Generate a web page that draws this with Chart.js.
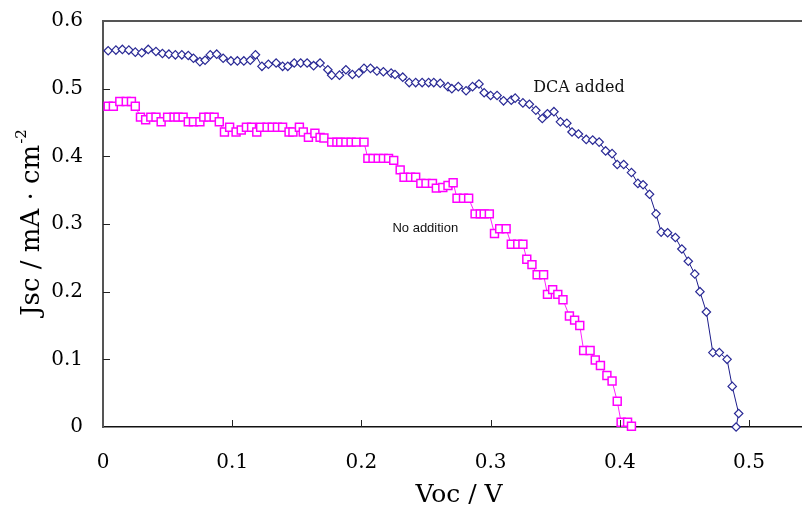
<!DOCTYPE html>
<html><head><meta charset="utf-8">
<script src="https://cdn.jsdelivr.net/npm/chart.js@4/dist/chart.umd.min.js"></script>
<style>html,body{margin:0;padding:0;background:#fff;}#wrap{width:802px;height:506px;position:relative;}</style>
</head><body><div id="wrap"><canvas id="c" width="802" height="506"></canvas></div>
<script>
const blueV = [0.004,0.010,0.015,0.020,0.025,0.030,0.035,0.041,0.046,0.051,
0.056,0.061,0.066,0.070,0.075,0.079,0.083,0.088,0.093,0.099,
0.104,0.109,0.114,0.118,0.123,0.128,0.134,0.139,0.143,0.148,
0.153,0.158,0.163,0.168,0.174,0.177,0.183,0.188,0.193,0.198,
0.202,0.207,0.212,0.217,0.223,0.226,0.232,0.237,0.242,0.247,
0.252,0.256,0.261,0.267,0.270,0.275,0.281,0.286,0.291,0.295,
0.300,0.305,0.310,0.316,0.319,0.325,0.330,0.335,0.340,0.344,
0.349,0.354,0.359,0.363,0.368,0.374,0.379,0.384,0.389,0.394,
0.398,0.403,0.409,0.414,0.418,0.423,0.428,0.432,0.437,0.443,
0.448,0.453,0.458,0.462,0.467,0.472,0.477,0.483,0.487,0.492,0.490];
const blueJ = [0.556,0.557,0.558,0.557,0.554,0.553,0.558,0.555,0.552,0.551,
0.550,0.550,0.549,0.545,0.540,0.542,0.550,0.551,0.545,0.541,
0.541,0.541,0.542,0.550,0.533,0.536,0.538,0.533,0.533,0.538,
0.538,0.538,0.534,0.538,0.528,0.520,0.520,0.528,0.521,0.523,
0.530,0.530,0.526,0.525,0.523,0.521,0.517,0.509,0.509,0.509,
0.509,0.509,0.508,0.503,0.500,0.503,0.497,0.503,0.507,0.494,
0.490,0.490,0.482,0.483,0.486,0.479,0.477,0.468,0.456,0.463,
0.466,0.451,0.449,0.436,0.433,0.425,0.424,0.421,0.408,0.404,
0.388,0.388,0.376,0.360,0.358,0.344,0.315,0.288,0.287,0.280,
0.263,0.245,0.226,0.200,0.170,0.110,0.110,0.100,0.060,0.020,0.000];
const pinkV = [0.004,0.008,0.013,0.018,0.022,0.025,0.029,0.033,0.037,0.041,
0.045,0.050,0.055,0.058,0.062,0.066,0.070,0.075,0.078,0.082,
0.086,0.090,0.094,0.098,0.103,0.107,0.111,0.115,0.119,0.122,
0.127,0.131,0.135,0.139,0.144,0.147,0.152,0.155,0.159,0.164,
0.168,0.171,0.177,0.181,0.184,0.188,0.192,0.196,0.202,0.205,
0.209,0.213,0.217,0.221,0.225,0.230,0.233,0.238,0.242,0.246,
0.250,0.255,0.258,0.263,0.267,0.271,0.274,0.279,0.283,0.288,
0.292,0.295,0.299,0.303,0.307,0.312,0.316,0.321,0.325,0.328,
0.332,0.336,0.341,0.344,0.348,0.352,0.356,0.361,0.365,0.369,
0.372,0.377,0.381,0.385,0.390,0.394,0.398,0.401,0.406,0.409];
const pinkJ = [0.474,0.474,0.481,0.481,0.481,0.474,0.458,0.454,0.458,0.458,
0.451,0.458,0.458,0.458,0.458,0.451,0.451,0.451,0.458,0.458,
0.458,0.451,0.436,0.443,0.436,0.439,0.443,0.443,0.436,0.443,
0.443,0.443,0.443,0.443,0.436,0.436,0.443,0.436,0.428,0.434,
0.428,0.427,0.421,0.421,0.421,0.421,0.421,0.421,0.421,0.397,
0.397,0.397,0.397,0.397,0.394,0.380,0.369,0.369,0.369,0.360,
0.360,0.360,0.353,0.354,0.357,0.361,0.338,0.338,0.338,0.315,
0.315,0.315,0.315,0.286,0.293,0.293,0.270,0.270,0.270,0.248,
0.240,0.225,0.225,0.196,0.203,0.196,0.188,0.164,0.158,0.150,
0.113,0.113,0.099,0.091,0.076,0.068,0.038,0.007,0.007,0.001];
const xTicks = [0,0.1,0.2,0.3,0.4,0.5];
const yTicks = [0,0.1,0.2,0.3,0.4,0.5,0.6];
const xTitle = 'Voc / V';
const yTitleMain = 'Jsc / mA · cm';
const yTitleSup = '-2';
const seriesNames = ['DCA added','No addition'];
const labelPos = [[0.333,0.501],[0.224,0.293]];

const toPts = (xs, ys) => xs.map((v,i)=>({x:v,y:ys[i]}));
const fmt = v => v===0 ? '0' : v.toFixed(1);
const SERIF = '"DejaVu Serif", serif';

const decor = {
  id:'decor',
  afterDraw(chart){
    const ctx = chart.ctx, ca = chart.chartArea;
    const xs = chart.scales.x, ys = chart.scales.y;
    ctx.save();
    ctx.strokeStyle = '#555'; ctx.lineWidth = 2;
    ctx.beginPath(); ctx.moveTo(ca.left, ca.top); ctx.lineTo(chart.width, ca.top); ctx.stroke();
    ctx.strokeStyle = '#222'; ctx.lineWidth = 1;
    xTicks.forEach(v=>{ if(v===0) return; const p = Math.round(xs.getPixelForValue(v))+0.5;
      ctx.beginPath(); ctx.moveTo(p, ca.bottom); ctx.lineTo(p, ca.bottom-7); ctx.stroke(); });
    yTicks.forEach(v=>{ if(v===0||v===0.6) return; const p = Math.round(ys.getPixelForValue(v))+0.5;
      ctx.beginPath(); ctx.moveTo(ca.left, p); ctx.lineTo(ca.left+7, p); ctx.stroke(); });
    ctx.fillStyle = '#111';
    ctx.textBaseline = 'middle'; ctx.textAlign = 'left';
    ctx.font = '16px ' + SERIF;
    ctx.fillText(seriesNames[0], xs.getPixelForValue(labelPos[0][0]), ys.getPixelForValue(labelPos[0][1]));
    ctx.font = '13px "Liberation Sans", Arial, sans-serif';
    ctx.fillText(seriesNames[1], xs.getPixelForValue(labelPos[1][0]), ys.getPixelForValue(labelPos[1][1]));
    ctx.fillStyle = '#000';
    ctx.font = '25px ' + SERIF; ctx.textAlign = 'center'; ctx.textBaseline = 'alphabetic';
    ctx.fillText(xTitle, 459, 502);
    ctx.translate(39, 223); ctx.rotate(-Math.PI/2);
    ctx.font = '26px ' + SERIF;
    const w1 = ctx.measureText(yTitleMain).width;
    ctx.font = '15px ' + SERIF;
    const w2 = ctx.measureText(yTitleSup).width;
    const start = -(w1+w2)/2;
    ctx.textAlign = 'left';
    ctx.font = '26px ' + SERIF;
    ctx.fillText(yTitleMain, start, 0);
    ctx.font = '15px ' + SERIF;
    ctx.fillText(yTitleSup, start + w1 + 1, -13);
    ctx.restore();
  }
};

new Chart(document.getElementById('c'), {
  type:'scatter',
  data:{ datasets:[
    { label: seriesNames[0], data: toPts(blueV, blueJ), showLine:true,
      borderColor:'#1c1c8a', borderWidth:1, pointStyle:'rectRot', pointRadius:4.2,
      pointBorderColor:'#2a2a96', pointBackgroundColor:'#ffffff', pointBorderWidth:1.2, clip:false },
    { label: seriesNames[1], data: toPts(pinkV, pinkJ), showLine:true,
      borderColor:'#ff22ff', borderWidth:1, pointStyle:'rect', pointRadius:5.6,
      pointBorderColor:'#ff00ff', pointBackgroundColor:'#ffffff', pointBorderWidth:1.5, clip:false }
  ]},
  options:{
    responsive:false, animation:false, devicePixelRatio:1,
    layout:{ autoPadding:false, padding:{ top:21, right:0, left:0, bottom:0 } },
    plugins:{ legend:{display:false}, tooltip:{enabled:false} },
    scales:{
      x:{ type:'linear', min:0, max:0.541,
        afterBuildTicks: s => { s.ticks = xTicks.map(v=>({value:v})); },
        afterFit: s => { s.height = 79; s.paddingLeft = 0; s.paddingRight = 0; },
        ticks:{ callback: fmt, font:{family:SERIF, size:20}, color:'#000', padding:24, maxRotation:0 },
        grid:{ display:true, drawOnChartArea:false, drawTicks:false },
        border:{ display:true, color:'#111', width:1.5 } },
      y:{ type:'linear', min:0, max:0.6,
        afterBuildTicks: s => { s.ticks = yTicks.map(v=>({value:v})); },
        afterFit: s => { s.width = 103; s.paddingTop = 0; s.paddingBottom = 0; },
        ticks:{ callback: fmt, font:{family:SERIF, size:20}, color:'#000', padding:20 },
        grid:{ display:true, drawOnChartArea:false, drawTicks:false },
        border:{ display:true, color:'#555', width:2 } }
    }
  },
  plugins:[decor]
});
</script></body></html>
